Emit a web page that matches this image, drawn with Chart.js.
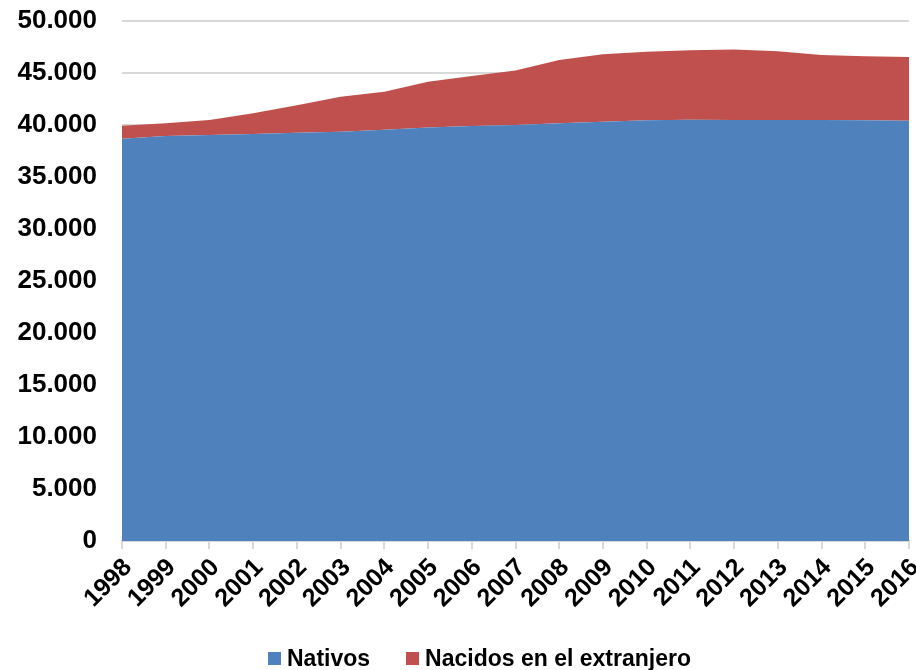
<!DOCTYPE html>
<html>
<head>
<meta charset="utf-8">
<script src="https://cdn.jsdelivr.net/npm/chart.js@4/dist/chart.umd.min.js"></script>
<style>
  html, body { margin: 0; padding: 0; background: #fff; }
  #wrap { position: relative; width: 916px; height: 670px; }
  #chart { display: block; }
  #legend {
    position: absolute; left: 268px; top: 645px; height: 26px;
    display: flex; align-items: center;
    font-family: "Liberation Sans", Arial, sans-serif; font-weight: bold; font-size: 23px; color: #000;
  }
  .item { display: flex; align-items: center; margin-right: 36px; }
  .box { width: 13px; height: 13px; margin-right: 6px; }
</style>
</head>
<body>
<div id="wrap">
  <canvas id="chart" width="916" height="670"></canvas>
  <div id="legend"></div>
</div>
<script>
// Población residente (miles de personas)
const years = ['1998', '1999', '2000', '2001', '2002', '2003', '2004', '2005', '2006', '2007',
               '2008', '2009', '2010', '2011', '2012', '2013', '2014', '2015', '2016'];
const nativos = [38680, 38940, 39040, 39130, 39250, 39360, 39550, 39770, 39900, 40000,
                 40160, 40320, 40450, 40510, 40480, 40480, 40480, 40450, 40420];
const extranjeros = [1250, 1220, 1440, 1990, 2650, 3360, 3650, 4390, 4810, 5250,
                     6090, 6480, 6600, 6670, 6790, 6620, 6250, 6150, 6120];
const seriesNames = ['Nativos', 'Nacidos en el extranjero'];
const seriesColors = ['#4F81BD', '#C0504D'];
const yTicks = [0, 5000, 10000, 15000, 20000, 25000, 30000, 35000, 40000, 45000, 50000];

const FONT = '"Liberation Sans", Arial, sans-serif';
const fmt = v => String(v).replace(/\B(?=(\d{3})+(?!\d))/g, '.');

const legend = document.getElementById('legend');
seriesNames.forEach((name, i) => {
  const item = document.createElement('div');
  item.className = 'item';
  const box = document.createElement('span');
  box.className = 'box';
  box.style.background = seriesColors[i];
  const label = document.createElement('span');
  label.textContent = name;
  item.appendChild(box);
  item.appendChild(label);
  legend.appendChild(item);
});

new Chart(document.getElementById('chart'), {
  type: 'line',
  data: {
    labels: years,
    datasets: [
      { label: seriesNames[0], data: nativos, backgroundColor: seriesColors[0], borderWidth: 0,
        pointRadius: 0, fill: 'origin', tension: 0 },
      { label: seriesNames[1], data: extranjeros, backgroundColor: seriesColors[1], borderWidth: 0,
        pointRadius: 0, fill: '-1', tension: 0 }
    ]
  },
  options: {
    responsive: false,
    animation: false,
    layout: { padding: { top: 21, right: 7, bottom: 29, left: 0 } },
    plugins: { legend: { display: false }, tooltip: { enabled: false } },
    scales: {
      x: {
        offset: false,
        afterFit: s => { s.height = 100; s.paddingLeft = 0; s.paddingRight = 0; },
        grid: { drawOnChartArea: false, drawTicks: true, tickLength: 8, color: '#d9d9d9', lineWidth: 2 },
        border: { color: '#d9d9d9', width: 2 },
        ticks: { maxRotation: 45, minRotation: 45, autoSkip: false, color: '#000', padding: 4,
                 labelOffset: 6, font: { family: FONT, size: 25, weight: 'bold' } }
      },
      y: {
        stacked: true,
        min: 0, max: 50000,
        afterBuildTicks: s => { s.ticks = yTicks.map(v => ({ value: v })); },
        afterFit: s => { s.width = 122; s.paddingTop = 0; s.paddingBottom = 0; },
        grid: { drawTicks: false, color: '#d9d9d9', lineWidth: 2 },
        border: { display: false },
        ticks: { color: '#000', padding: 25, callback: v => fmt(v),
                 font: { family: FONT, size: 26, weight: 'bold' } }
      }
    }
  }
});
</script>
</body>
</html>
